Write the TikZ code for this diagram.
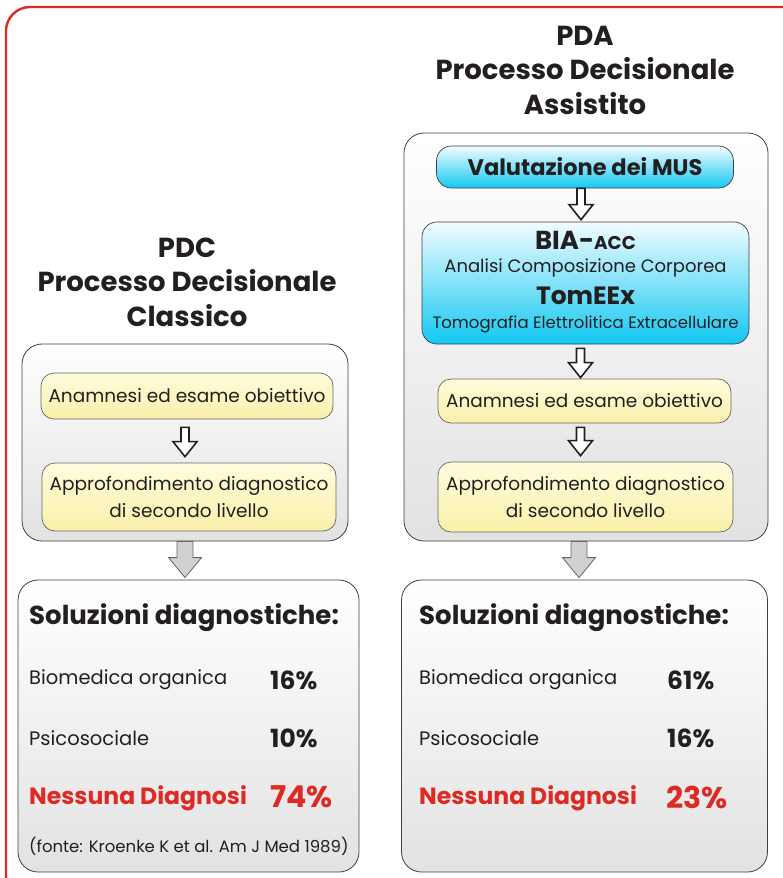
\documentclass[tikz,border=0pt]{standalone}
\usepackage{fontspec}
\setmainfont{Poppins}
\usetikzlibrary{calc}
\definecolor{rossobordo}{HTML}{DD2A22}
\definecolor{quasinero}{HTML}{231F20}
\definecolor{gialloalto}{HTML}{FFFCDC}
\definecolor{giallobasso}{HTML}{FAF0AA}
\definecolor{cianoalto}{HTML}{F2FCFF}
\definecolor{cianobasso}{HTML}{12C8F2}
\definecolor{grigiobasso}{HTML}{E2E2E2}
\tikzset{
  cornice/.style={draw=rossobordo,line width=2.4pt,rounded corners=24pt},
  titolo/.style={font=\bfseries\fontsize{27.5}{34.5}\selectfont,align=center,text=quasinero},
  contenitore/.style={draw=black!75,line width=0.8pt,rounded corners=20pt,
    top color=white,bottom color=grigiobasso,inner sep=0pt},
  giallo/.style={draw=black!60,line width=0.7pt,rounded corners=13pt,
    top color=gialloalto,bottom color=giallobasso,inner sep=0pt,align=center,
    font=\fontsize{18.5}{27}\selectfont,text=quasinero},
  ciano/.style={draw=black!75,line width=0.7pt,rounded corners=15pt,
    top color=cianoalto,bottom color=cianobasso,inner sep=0pt,align=center,text=quasinero},
  voce/.style={anchor=west,inner sep=0pt,font=\fontsize{19.5}{22}\selectfont,text=quasinero},
  perc/.style={anchor=west,inner sep=0pt,font=\bfseries\fontsize{25}{28}\selectfont,text=quasinero},
  frecciavuota/.style={draw=quasinero,line width=1.6pt,fill=white,line join=miter,
    to path={let \p1=(\tikztostart),\p2=(\tikztotarget) in
      (\x1-4pt,\y1) -- (\x1+4pt,\y1) -- (\x1+4pt,\y2+15pt) -- (\x1+12pt,\y2+15pt)
      -- (\x1,\y2) -- (\x1-12pt,\y2+15pt) -- (\x1-4pt,\y2+15pt) -- cycle}},
  frecciagrigia/.style={draw=black!60,line width=0.8pt,fill=black!18,line join=miter,
    to path={let \p1=(\tikztostart),\p2=(\tikztotarget) in
      (\x1-8pt,\y1) -- (\x1+8pt,\y1) -- (\x1+8pt,\y2+20pt) -- (\x1+16.5pt,\y2+20pt)
      -- (\x1,\y2) -- (\x1-16.5pt,\y2+20pt) -- (\x1-8pt,\y2+20pt) -- cycle}}
}
\begin{document}
\begin{tikzpicture}[x=1pt,y=-1pt]
  \useasboundingbox (0,0) rectangle (783,878);
  \draw[cornice] (6,7) rectangle (810,900);

  % titoli
  \node[titolo] (titPDC) at (187,282) {PDC\\Processo Decisionale\\Classico};
  \node[titolo] (titPDA) at (585,70) {PDA\\Processo Decisionale\\Assistito};

  % contenitori
  \node[contenitore,minimum width=326pt,minimum height=197pt] (contL) at (185,442.5) {};
  \node[contenitore,minimum width=364pt,minimum height=408pt] (contR) at (586,337) {};
  \node[contenitore,minimum width=341pt,minimum height=292pt] (resL) at (188.5,726) {};
  \node[contenitore,minimum width=366pt,minimum height=292pt] (resR) at (584.5,726) {};

  % PDC
  \node[giallo,minimum width=292pt,minimum height=46pt] (anamL) at (187,396) {Anamnesi ed esame obiettivo};
  \node[giallo,minimum width=294pt,minimum height=68pt] (approL) at (189,497) {Approfondimento diagnostico\\di secondo livello};

  % PDA
  \node[ciano,minimum width=297pt,minimum height=42pt,font=\bfseries\fontsize{22.5}{24}\selectfont] (mus) at (585,167) {Valutazione dei MUS};
  \node[ciano,minimum width=327pt,minimum height=122pt] (bia) at (585.5,283) {};
  \node[inner sep=0pt,font=\bfseries\fontsize{26}{28}\selectfont,text=quasinero] (biaT) at (585.5,240) {BIA-{\fontsize{18.5}{20}\selectfont ACC}};
  \node[inner sep=0pt,font=\fontsize{18}{20}\selectfont,text=quasinero] (biaS) at (585.5,268) {Analisi Composizione Corporea};
  \node[inner sep=0pt,font=\bfseries\fontsize{25}{28}\selectfont,text=quasinero] (tomT) at (585.5,296) {TomEEx};
  \node[inner sep=0pt,font=\fontsize{16.5}{20}\selectfont,text=quasinero] (tomS) at (585.5,324) {Tomografia Elettrolitica Extracellulare};
  \node[giallo,minimum width=293pt,minimum height=44pt] (anamR) at (584.5,401) {Anamnesi ed esame obiettivo};
  \node[giallo,minimum width=295pt,minimum height=70pt] (approR) at (585.5,497) {Approfondimento diagnostico\\di secondo livello};

  % frecce
  \draw[frecciavuota] ([xshift=-2pt,yshift=-8pt]anamL.south) to ([yshift=6pt]approL.north);
  \draw[frecciavuota] ([xshift=-4pt]mus.south) to ([yshift=2pt]bia.north);
  \draw[frecciavuota] ([xshift=-5pt,yshift=-4pt]bia.south) to ([yshift=1pt]anamR.north);
  \draw[frecciavuota] ([xshift=-4pt,yshift=-4pt]anamR.south) to ([yshift=6pt]approR.north);
  \draw[frecciagrigia] (contL.south) to ([yshift=2pt]resL.north);
  \draw[frecciagrigia] ([xshift=-7pt]contR.south) to ([yshift=2pt]resR.north);

  % soluzioni PDC
  \node[voce,font=\bfseries\fontsize{26}{28}\selectfont] (solL) at (29,618) {Soluzioni diagnostiche:};
  \node[voce] (bioL) at (29,680) {Biomedica organica};
  \node[perc] (bioLp) at (270,680) {16\%};
  \node[voce] (psiL) at (29,738) {Psicosociale};
  \node[perc] (psiLp) at (270,738) {10\%};
  \node[voce,font=\bfseries\fontsize{23.5}{26}\selectfont,text=rossobordo] (nesL) at (29,798) {Nessuna Diagnosi};
  \node[perc,font=\bfseries\fontsize{30}{32}\selectfont,text=rossobordo] (nesLp) at (270,797) {74\%};
  \node[voce,font=\fontsize{16.5}{18}\selectfont] (fonte) at (29,846) {(fonte: Kroenke K et al. Am J Med 1989)};

  % soluzioni PDA
  \node[voce,font=\bfseries\fontsize{26}{28}\selectfont] (solR) at (419,618) {Soluzioni diagnostiche:};
  \node[voce] (bioR) at (419,680) {Biomedica organica};
  \node[perc] (bioRp) at (667,680) {61\%};
  \node[voce] (psiR) at (419,738) {Psicosociale};
  \node[perc] (psiRp) at (667,738) {16\%};
  \node[voce,font=\bfseries\fontsize{23.5}{26}\selectfont,text=rossobordo] (nesR) at (419,798) {Nessuna Diagnosi};
  \node[perc,font=\bfseries\fontsize{30}{32}\selectfont,text=rossobordo] (nesRp) at (666,797) {23\%};
\end{tikzpicture}
\end{document}
